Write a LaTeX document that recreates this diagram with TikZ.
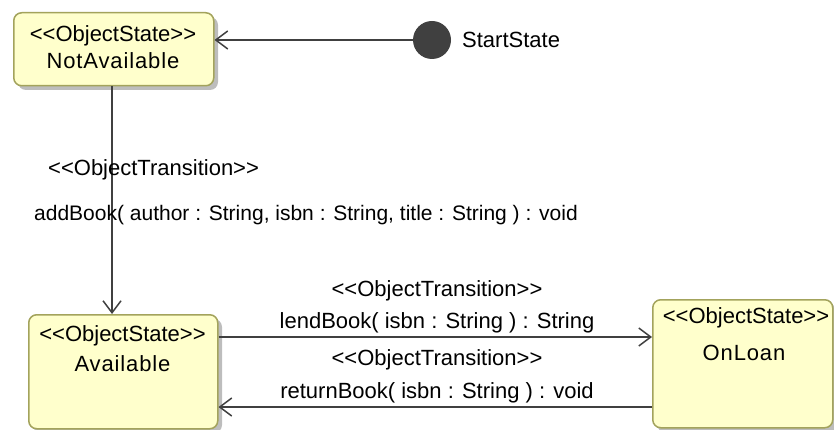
\documentclass[tikz,border=0pt]{standalone}
\usepackage{fontspec}
\setmainfont{Liberation Sans}
\newfontfamily\namefont{Liberation Sans}[LetterSpace=4]
\usetikzlibrary{arrows.meta}

\definecolor{statefill}{HTML}{FFFFCC}
\definecolor{stateedge}{HTML}{A3A35C}
\definecolor{stateshadow}{HTML}{BDBDBD}
\definecolor{wire}{HTML}{404040}
\definecolor{startdot}{HTML}{404040}

% guillemet-free stereotype brackets
\newcommand\stereotype[1]{{<}{<}#1{>}{>}}

\begin{document}
\begin{tikzpicture}[x=1pt,y=-1pt,
  every node/.style={font=\fontsize{22}{26}\selectfont, text=black, inner sep=0pt},
  statebox/.style={draw=stateedge, line width=1.5pt, fill=statefill,
    rounded corners=8pt, minimum width=#1, anchor=north west},
  shade/.style={fill=stateshadow, rounded corners=8pt},
  trans/.style={draw=wire, line width=1.5pt,
    -{Straight Barb[length=12pt,width=18pt,line width=1.5pt]}},
  lbl/.style={anchor=base},
]
\useasboundingbox (0,0) rectangle (834,430);

% state shadows
\fill[shade] (18,17) rectangle (218,90);
\fill[shade] (33,319) rectangle (222,433);
\fill[shade] (657,304) rectangle (837,432);

% states
\node[statebox=200pt, minimum height=73pt] (na) at (13,12) {};
\node (natxt) at (113,47) [align=center, anchor=center]
  {\stereotype{ObjectState}\\[1pt]{\namefont NotAvailable}};

\node[statebox=189pt, minimum height=114pt] (avail) at (28,314) {};
\node[lbl] (availst) at (122.5,341) {\stereotype{ObjectState}};
\node[lbl] (availname) at (122.5,371) {\namefont Available};

\node[statebox=180pt, minimum height=128pt] (onloan) at (652,299) {};
\node[lbl] (onloanst) at (746,323) {\stereotype{ObjectState}};
\node[lbl] (onloanname) at (744,360) {\namefont OnLoan};

% initial state
\node[circle, fill=startdot, minimum size=38pt] (start) at (432,40) {};
\node[anchor=west] (starttxt) at (462,40) {StartState};

% transitions
\draw[trans] (start.west) -- (start.west -| na.east);

\draw[trans] (na.south -| 112,0) -- (112,0 |- avail.north);
\node[anchor=base west] (addst) at (48,176) {\stereotype{ObjectTransition}};
\node[anchor=base west, font=\fontsize{21}{25}\selectfont] (addop) at (34,220)
  {addBook( author : String, isbn : String, title : String ) : void};

\coordinate (lendy) at (0,337);
\coordinate (rety) at (0,407);
\draw[trans] (avail.east |- lendy) -- (onloan.west |- lendy);
\node[lbl] (lendst) at (437,296) {\stereotype{ObjectTransition}};
\node[lbl] (lendop) at (437,328) {lendBook( isbn : String ) : String};

\draw[trans] (onloan.west |- rety) -- (avail.east |- rety);
\node[lbl] (retst) at (437,365) {\stereotype{ObjectTransition}};
\node[lbl] (retop) at (437,398) {returnBook( isbn : String ) : void};
\end{tikzpicture}
\end{document}
